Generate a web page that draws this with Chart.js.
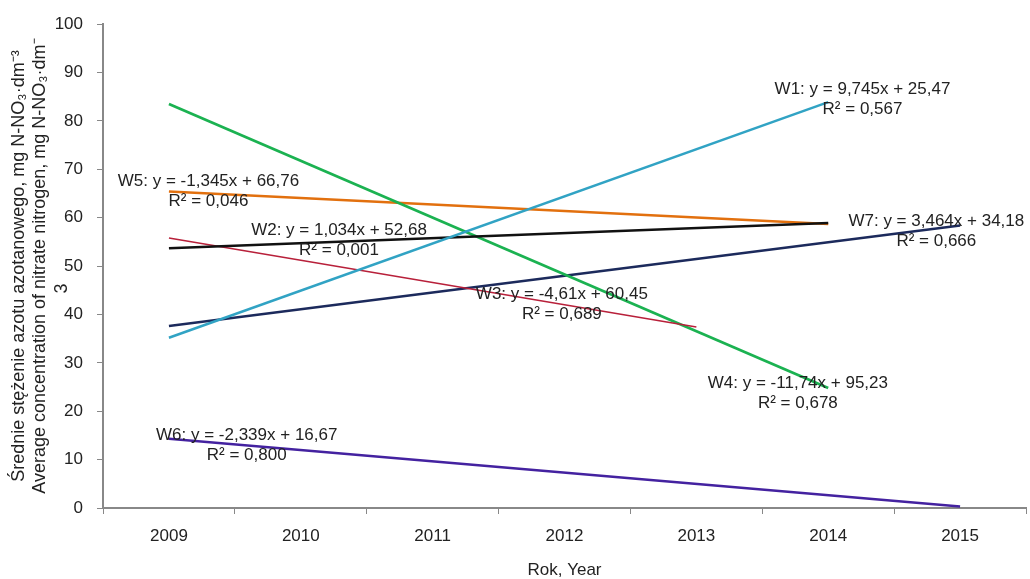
<!DOCTYPE html>
<html>
<head>
<meta charset="utf-8">
<script src="https://cdn.jsdelivr.net/npm/chart.js@4"></script>
<style>
  html, body { margin: 0; padding: 0; background: #fff; }
  #wrap { width: 1030px; height: 579px; }
</style>
</head>
<body>
<div id="wrap"><canvas id="myChart"></canvas></div>
<script>
// categories and trendline end points
const years = ['2009', '2010', '2011', '2012', '2013', '2014', '2015'];
const w1 = [35.2, null, null, null, null, 83.9, null];
const w2 = [53.7, null, null, null, null, 58.9, null];
const w3 = [55.8, null, null, null, 37.4, null, null];
const w4 = [83.5, null, null, null, null, 24.8, null];
const w5 = [65.4, null, null, null, null, 58.7, null];
const w6 = [14.3, null, null, null, null, null, 0.3];
const w7 = [37.6, null, null, null, null, null, 58.4];
const yTicks = [0, 10, 20, 30, 40, 50, 60, 70, 80, 90, 100];

const seriesNames = ['W1', 'W2', 'W3', 'W4', 'W5', 'W6', 'W7'];
const equations = [
    'W1: y = 9,745x + 25,47',
    'W2: y = 1,034x + 52,68',
    'W3: y = -4,61x + 60,45',
    'W4: y = -11,74x + 95,23',
    'W5: y = -1,345x + 66,76',
    'W6: y = -2,339x + 16,67',
    'W7: y = 3,464x + 34,18',
];
const rSquared = ['R² = 0,567', 'R² = 0,001', 'R² = 0,689', 'R² = 0,678', 'R² = 0,046', 'R² = 0,800', 'R² = 0,666'];

// where the equation labels sit (category index, value)
const labelSpots = [
    [5.26, 86.6],
    [1.29, 57.4],
    [2.98, 44.2],
    [4.77, 25.8],
    [0.30, 67.6],
    [0.59, 15.1],
    [5.82, 59.3],
];

const colours = ['#31a3c4', '#111111', '#b8203a', '#1bb251', '#e2700e', '#4422a0', '#1c2a5c'];
const widths = [2.5, 2.5, 1.5, 2.8, 2.5, 2.5, 2.5];
const values = [w1, w2, w3, w4, w5, w6, w7];

const fontFamily = '"Liberation Sans", Arial, sans-serif';

const data = {
    labels: years,
    datasets: values.map((v, i) => ({
        label: seriesNames[i],
        data: v,
        borderColor: colours[i],
        borderWidth: widths[i],
        pointRadius: 0,
        fill: false,
        spanGaps: true,
        tension: 0,
    })),
};

//----------- equation labels ------------
const equationLabels = {
    id: 'equationLabels',
    afterDatasetsDraw: (chart) => {
        const ctx = chart.ctx;
        const x = chart.scales.x;
        const y = chart.scales.y;
        ctx.save();
        ctx.font = '17px ' + fontFamily;
        ctx.fillStyle = '#222';
        ctx.textAlign = 'center';
        ctx.textBaseline = 'middle';
        labelSpots.forEach((spot, i) => {
            const px = x.getPixelForValue(spot[0]);
            const py = y.getPixelForValue(spot[1]);
            ctx.fillText(equations[i], px, py);
            ctx.fillText(rSquared[i], px, py + 20);
        });
        ctx.restore();
    },
};

const config = {
    type: 'line',
    data: data,
    options: {
        responsive: true,
        maintainAspectRatio: false,
        animation: false,
        layout: { padding: { top: 24, right: 4, bottom: 0, left: 0 } },
        scales: {
            x: {
                offset: true,
                grid: {
                    offset: true,
                    drawOnChartArea: false,
                    drawTicks: true,
                    tickLength: 6,
                    color: '#888',
                },
                border: { color: '#888', width: 2 },
                ticks: {
                    color: '#222',
                    padding: 12,
                    font: { size: 17, family: fontFamily },
                },
                title: {
                    display: true,
                    text: 'Rok, Year',
                    color: '#222',
                    font: { size: 17, family: fontFamily, lineHeight: 1 },
                    padding: { top: 0, bottom: 0 },
                },
                afterFit: (scale) => { scale.height = 71; },
            },
            y: {
                min: 0,
                max: 100,
                afterBuildTicks: (scale) => {
                    scale.ticks = yTicks.map((v) => ({ value: v }));
                },
                grid: {
                    drawOnChartArea: false,
                    drawTicks: true,
                    tickLength: 6,
                    color: '#888',
                },
                border: { color: '#888', width: 2 },
                ticks: {
                    color: '#222',
                    padding: 14,
                    font: { size: 17, family: fontFamily },
                },
                title: {
                    display: true,
                    text: [
                        'Średnie stężenie azotu azotanowego, mg N-NO₃·dm⁻³',
                        'Average concentration of nitrate nitrogen, mg N-NO₃·dm⁻',
                        '3         ',
                    ],
                    color: '#222',
                    font: { size: 18, family: fontFamily, lineHeight: 1.2 },
                    padding: { top: 8, bottom: 0 },
                },
                afterFit: (scale) => { scale.width = 103; },
            },
        },
        plugins: {
            legend: { display: false },
            tooltip: { enabled: false },
        },
    },
    plugins: [equationLabels],
};

const myChart = new Chart(document.getElementById('myChart'), config);
</script>
</body>
</html>
